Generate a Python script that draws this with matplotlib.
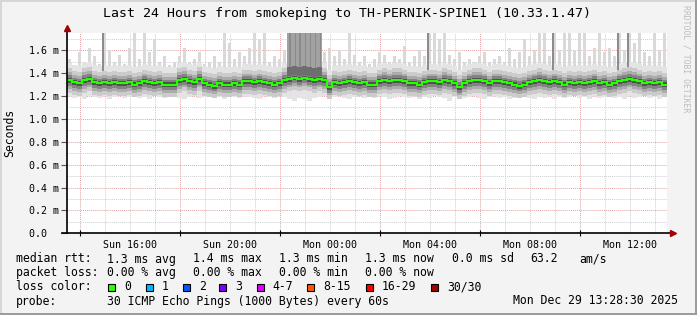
import matplotlib
matplotlib.use("Agg")
import matplotlib.pyplot as plt
import matplotlib.dates as mdates
from matplotlib.patches import Rectangle
from matplotlib.lines import Line2D
from datetime import datetime, timedelta
import numpy as np

# ---- data (ms), one value per 12 minute bin ----
start = datetime(2025, 12, 28, 13, 28, 30)
step_min = 12

median = [1.34, 1.32, 1.31, 1.34, 1.35, 1.32, 1.31, 1.32, 1.31, 1.32,
          1.31, 1.31, 1.32, 1.30, 1.31, 1.33, 1.32, 1.31, 1.32, 1.30,
          1.30, 1.30, 1.34, 1.35, 1.33, 1.32, 1.35, 1.31, 1.30, 1.29,
          1.31, 1.30, 1.30, 1.31, 1.30, 1.33, 1.33, 1.32, 1.33, 1.32,
          1.31, 1.30, 1.31, 1.34, 1.35, 1.36, 1.35, 1.36, 1.35, 1.34,
          1.35, 1.34, 1.28, 1.32, 1.31, 1.32, 1.33, 1.32, 1.31, 1.32,
          1.30, 1.30, 1.33, 1.34, 1.33, 1.34, 1.34, 1.33, 1.31, 1.31,
          1.30, 1.32, 1.33, 1.33, 1.32, 1.34, 1.33, 1.31, 1.28, 1.31,
          1.33, 1.34, 1.34, 1.33, 1.31, 1.33, 1.33, 1.32, 1.31, 1.30,
          1.29, 1.30, 1.32, 1.33, 1.34, 1.33, 1.32, 1.33, 1.32, 1.30,
          1.32, 1.31, 1.32, 1.31, 1.32, 1.33, 1.31, 1.32, 1.30, 1.31,
          1.33, 1.34, 1.35, 1.34, 1.33, 1.31, 1.32, 1.31, 1.32, 1.30]

ping_max = [1.52, 1.47, 1.58, 1.50, 1.62, 1.55, 1.48, 1.76, 1.60, 1.50,
            1.56, 1.48, 1.62, 1.76, 1.52, 1.76, 1.58, 1.70, 1.50, 1.55,
            1.47, 1.50, 1.55, 1.62, 1.50, 1.52, 1.58, 1.48, 1.50, 1.55,
            1.50, 1.76, 1.66, 1.52, 1.58, 1.55, 1.62, 1.76, 1.70, 1.76,
            1.50, 1.55, 1.52, 1.60, 1.76, 1.76, 1.76, 1.76, 1.76, 1.76,
            1.76, 1.58, 1.62, 1.55, 1.60, 1.52, 1.76, 1.56, 1.50, 1.55,
            1.48, 1.52, 1.58, 1.56, 1.50, 1.55, 1.52, 1.64, 1.50, 1.55,
            1.60, 1.55, 1.76, 1.76, 1.70, 1.76, 1.56, 1.52, 1.58, 1.50,
            1.52, 1.50, 1.55, 1.58, 1.50, 1.52, 1.55, 1.50, 1.62, 1.52,
            1.58, 1.70, 1.55, 1.60, 1.76, 1.76, 1.55, 1.76, 1.60, 1.76,
            1.76, 1.60, 1.76, 1.76, 1.55, 1.62, 1.76, 1.58, 1.62, 1.55,
            1.76, 1.60, 1.76, 1.66, 1.76, 1.58, 1.55, 1.76, 1.60, 1.76]

ping_min = [1.20, 1.18, 1.19, 1.17, 1.20, 1.19, 1.18, 1.20, 1.17, 1.19,
            1.20, 1.18, 1.19, 1.21, 1.18, 1.19, 1.17, 1.20, 1.19, 1.18,
            1.19, 1.20, 1.18, 1.17, 1.19, 1.20, 1.18, 1.19, 1.21, 1.18,
            1.19, 1.17, 1.20, 1.19, 1.18, 1.20, 1.19, 1.18, 1.17, 1.20,
            1.19, 1.18, 1.20, 1.19, 1.17, 1.16, 1.18, 1.17, 1.16, 1.18,
            1.19, 1.20, 1.18, 1.19, 1.20, 1.18, 1.17, 1.19, 1.20, 1.18,
            1.19, 1.18, 1.20, 1.19, 1.17, 1.18, 1.20, 1.19, 1.18, 1.20,
            1.17, 1.19, 1.18, 1.20, 1.19, 1.18, 1.16, 1.19, 1.20, 1.18,
            1.19, 1.20, 1.18, 1.17, 1.19, 1.20, 1.18, 1.19, 1.17, 1.18,
            1.19, 1.20, 1.18, 1.17, 1.19, 1.18, 1.20, 1.17, 1.19, 1.18,
            1.19, 1.20, 1.18, 1.19, 1.17, 1.20, 1.18, 1.19, 1.20, 1.18,
            1.19, 1.17, 1.20, 1.18, 1.19, 1.20, 1.18, 1.19, 1.17, 1.20]

# bins where many pings went high (dark columns) and the busy stretch
dense_bins = [7, 72, 97, 110, 112]
burst_bins = [44, 45, 46, 47, 48, 49, 50]

title = "Last 24 Hours from smokeping to TH-PERNIK-SPINE1 (10.33.1.47)"
rtt_labels = ["1.3 ms avg", "1.4 ms max", "1.3 ms min", "1.3 ms now", "0.0 ms sd", "63.2", "am/s"]
loss_labels = ["0.00 % avg", "0.00 % max", "0.00 % min", "0.00 % now"]
loss_names = ["0", "1", "2", "3", "4-7", "8-15", "16-29", "30/30"]
loss_colors = ["#26ff00", "#00b8ff", "#0059ff", "#7e00ff", "#dd00ff", "#ff5500", "#ff0000", "#a10000"]
probe_text = "30 ICMP Echo Pings (1000 Bytes) every 60s"
stamp = "Mon Dec 29 13:28:30 2025"

# ---- figure ----
W, H = 697, 315
mono = "DejaVu Sans Mono"
fig = plt.figure(figsize=(W / 100, H / 100), dpi=100, facecolor="#f3f3f3")

def fx(x):
    return x / W

def fy(y):
    return 1 - y / H

ax = fig.add_axes([fx(67), fy(233.3), 600 / W, 200.3 / H])
ax.set_facecolor("white")

edges = mdates.date2num([start + timedelta(minutes=step_min * i) for i in range(len(median) + 1)])
med = np.array(median)
bw = edges[1] - edges[0]

# smoke: max spikes, light body, then darker layers towards the median
ax.bar(edges[:-1] + bw * 0.2, np.array(ping_max) - med, width=bw * 0.6, bottom=med,
       align="edge", color="#d9d9d9", lw=0, zorder=1)
ax.stairs(med + 0.15, edges, baseline=ping_min, fill=True, color="#e4e4e4", zorder=1.1)
for i in dense_bins:
    ax.bar(edges[i], 1.8 - med[i], width=bw * 0.45, bottom=med[i], align="edge", color="#8c8c8c", lw=0, zorder=1.5)
layers = [(0.10, 0.11, "#cbcbcb"), (0.065, 0.075, "#ababab"), (0.04, 0.05, "#838383"), (0.018, 0.025, "#505050")]
for up, dn, col in layers:
    ax.stairs(med + up, edges, baseline=med - dn, fill=True, color=col, zorder=2)
for i in burst_bins:
    ax.bar(edges[i], 1.8 - med[i], width=bw, bottom=med[i] + 0.04, align="edge", color="#a2a2a2", lw=0, zorder=2.5)
    ax.bar(edges[i] + bw * 0.5, 1.8 - med[i], width=bw * 0.3, bottom=med[i] + 0.04, align="edge", color="#8a8a8a", lw=0, zorder=2.6)
    ax.bar(edges[i], 0.08, width=bw, bottom=med[i] + 0.02, align="edge", color="#6e6e6e", lw=0, zorder=2.7)
ax.stairs(med, edges, color="#26ff00", lw=1.5, zorder=3, baseline=None)

ax.set_xlim(edges[0], edges[-1])
ax.set_ylim(0, 1.75)

# grid
for k in range(0, 25):
    t = mdates.date2num(datetime(2025, 12, 28, 14) + timedelta(hours=k))
    col = "#e3a2a2" if k % 4 == 0 else "#cfcfcf"
    ax.axvline(t, color=col, lw=0.7, ls=(0, (1, 1)), zorder=0.5)
for k in range(1, 18):
    col = "#e3a2a2" if k % 2 == 0 else "#cfcfcf"
    ax.axhline(k / 10, color=col, lw=0.7, ls=(0, (1, 1)), zorder=0.5)

# axes and ticks
for s in ["top", "right", "left", "bottom"]:
    ax.spines[s].set_visible(False)
ax.add_line(Line2D([0, 0], [0, 1.02], transform=ax.transAxes, color="black", lw=1.2, clip_on=False, zorder=5))
ax.add_line(Line2D([-0.008, 1.008], [0, 0], transform=ax.transAxes, color="black", lw=1.2, clip_on=False, zorder=5))
ax.plot([0], [1.025], marker="^", color="#a00000", ms=4, transform=ax.transAxes, clip_on=False, zorder=6)
ax.plot([1.01], [0], marker=">", color="#a00000", ms=4, transform=ax.transAxes, clip_on=False, zorder=6)

ax.xaxis.set_major_locator(mdates.HourLocator(byhour=[0, 4, 8, 12, 16, 20]))
ax.xaxis.set_major_formatter(mdates.DateFormatter("%a %H:%M"))
ax.xaxis.set_minor_locator(mdates.HourLocator(byhour=[2, 6, 10, 14, 18, 22]))
ax.tick_params(axis="x", which="major", length=0, pad=5, labelsize=7.2, labelfontfamily=mono)
ax.tick_params(axis="x", which="minor", length=4, direction="inout", width=0.8, color="black")

yt = [v / 10 for v in range(0, 17, 2)]
ax.set_yticks(yt)
ax.set_yticklabels(["0.0  " if v == 0 else f"{v:.1f} m" for v in yt], family=mono, fontsize=7.2)
ax.tick_params(axis="y", which="major", length=4, width=0.8, pad=2, color="#555555")

fig.text(fx(10), fy(133), "Seconds", rotation=90, ha="center", va="center", family=mono, fontsize=8.3, color="black")
fig.text(fx(347), fy(14), title, ha="center", va="center", family=mono, fontsize=9.5, color="black")
fig.text(fx(686), fy(59), "RRDTOOL / TOBI OETIKER", rotation=270, ha="center", va="center", family=mono, fontsize=5.9, color="#bdbdbd")

# legend block
tk = dict(family=mono, fontsize=8.3, va="center", ha="left", color="black")
cols = [107.3, 193.3, 279.3, 365, 451.7, 530, 579]
fig.text(fx(16), fy(259), "median rtt:", **tk)
for x, s in zip(cols, rtt_labels):
    fig.text(fx(x), fy(259), s, **tk)
fig.text(fx(16), fy(272.5), "packet loss:", **tk)
for x, s in zip(cols, loss_labels):
    fig.text(fx(x), fy(272.5), s, **tk)
fig.text(fx(16), fy(286.5), "loss color:", **tk)
sw_x = [108, 145.7, 182.7, 219, 256.7, 307, 365.7, 431]
for x, name, c in zip(sw_x, loss_names, loss_colors):
    fig.add_artist(Rectangle((fx(x), fy(290.5)), 7 / W, 7 / H, transform=fig.transFigure,
                             facecolor=c, edgecolor="black", lw=0.8))
    fig.text(fx(x + 16), fy(286.5), name, **tk)
fig.text(fx(16), fy(301), "probe:", **tk)
fig.text(fx(107.3), fy(301), probe_text, **tk)
fig.text(fx(513), fy(301), stamp, **tk)

# 3d frame of the canvas
fig.add_artist(Rectangle((0, 0), 1, 2 / H, transform=fig.transFigure, color="#9c9c9c", lw=0))
fig.add_artist(Rectangle((1 - 2 / W, 0), 2 / W, 1, transform=fig.transFigure, color="#9c9c9c", lw=0))
fig.add_artist(Rectangle((0, 1 - 2 / H), 1 - 2 / W, 2 / H, transform=fig.transFigure, color="#d6d6d6", lw=0))
fig.add_artist(Rectangle((0, 2 / H), 2 / W, 1 - 4 / H, transform=fig.transFigure, color="#d6d6d6", lw=0))

fig.savefig("out.png", dpi=100, facecolor=fig.get_facecolor())
